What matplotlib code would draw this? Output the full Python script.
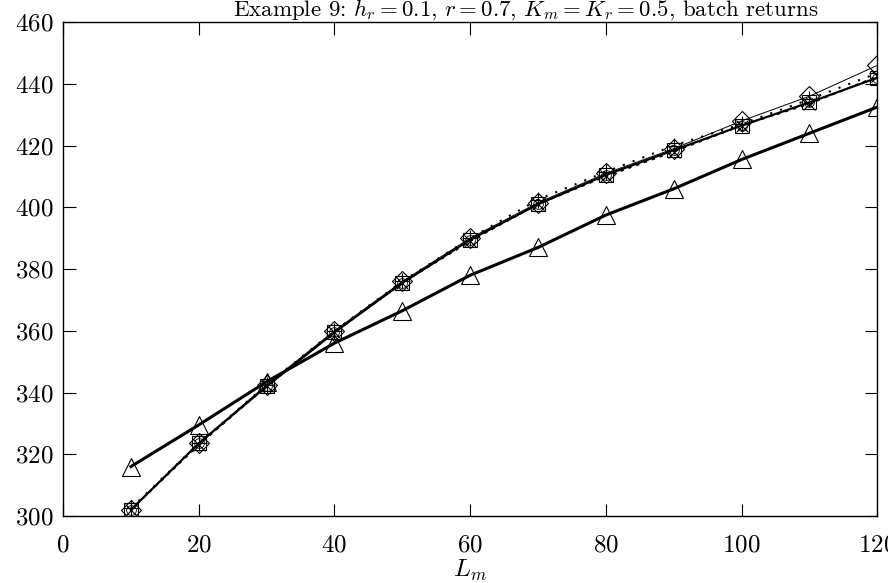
import numpy as np
import matplotlib
matplotlib.use("Agg")
import matplotlib.pyplot as plt

plt.rcParams['font.family'] = 'cmr10'
plt.rcParams['mathtext.fontset'] = 'cm'
plt.rcParams['axes.formatter.use_mathtext'] = True

L_m = [10, 20, 30, 40, 50, 60, 70, 80, 90, 100, 110, 120]

tri = [316, 329.5, 343.5, 356, 366.5, 378, 387, 397.5, 406, 415.5, 424, 432.5]
sq = [302, 323.5, 342, 359.5, 375.5, 389.5, 401, 410.5, 418.5, 426.5, 434, 442]
xs = [302, 323, 342, 359.5, 375.5, 389, 401, 410, 418, 426.5, 433.5, 442.5]
dia = [302, 323.5, 342.5, 360, 376, 390, 401.5, 411, 419, 428, 436, 446]
plus = [302.5, 323.5, 342.5, 360, 376, 390, 402.5, 411.5, 420, 427, 435, 443.5]

fig = plt.figure(figsize=(8.88, 5.83), dpi=100)
ax = fig.add_axes([0.071, 0.115, 0.917, 0.847])

ax.plot(L_m, tri, color='black', lw=2.2, marker='^', ms=13, mfc='none', mew=0.8)
ax.plot(L_m, sq, color='black', lw=1.6, marker='s', ms=10, mfc='none', mew=0.8)
ax.plot(L_m, xs, color='black', lw=1.2, ls=(0, (2, 3)), marker='x', ms=9, mew=0.8)
ax.plot(L_m, dia, color='black', lw=0.7, marker='D', ms=10, mfc='none', mew=0.8)
ax.plot(L_m, plus, color='black', lw=1.5, ls=(0, (1, 4)), marker='+', ms=12, mew=0.8)
ax.plot(L_m, sq, color='black', lw=0, marker='o', ms=7, mfc='none', mew=0.6)

ax.set_xlim(0, 120)
ax.set_ylim(300, 460)
ax.set_xticks(np.arange(0, 121, 20))
ax.set_yticks(np.arange(300, 461, 20))
ax.tick_params(direction='in', top=True, right=True, length=9, labelsize=18)
ax.tick_params(axis='x', pad=13)
ax.tick_params(axis='y', pad=7)
for s in ax.spines.values():
    s.set_linewidth(1.0)

fig.text(0.592, 0.9726, "Example 9: $h_r = 0.1$, $r = 0.7$, $K_m = K_r = 0.5$, batch returns",
         fontsize=16.5, ha='center', va='baseline')
ax.set_xlabel("$L_m$", fontsize=18, labelpad=1)

fig.savefig("out.png", dpi=100)
